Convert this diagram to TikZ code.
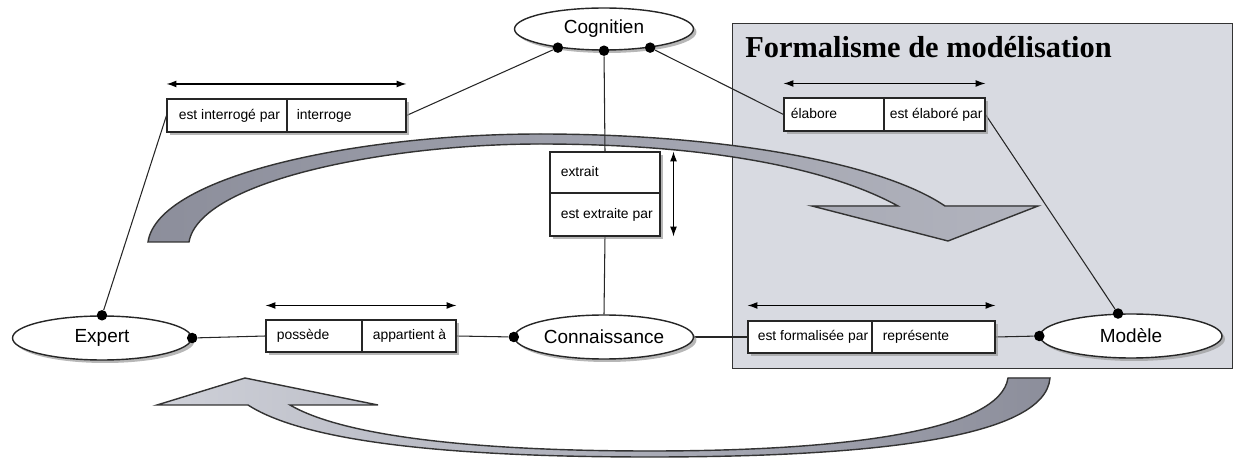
\documentclass[tikz,border=0pt]{standalone}
\usepackage{fontspec}
\setmainfont{Liberation Sans}
\newfontfamily\titlefont{Liberation Serif}
\usetikzlibrary{shapes.geometric,shadows,arrows.meta}
\pgfdeclarelayer{bglayer}
\pgfdeclarelayer{midlayer}
\pgfsetlayers{bglayer,midlayer,main}
\definecolor{panelfill}{RGB}{216,218,225}
\definecolor{arrowdark}{RGB}{140,142,155}
\definecolor{arrowmid}{RGB}{178,180,190}
\definecolor{arrowlight}{RGB}{206,208,216}
\begin{document}
\begin{tikzpicture}[x=0.02cm,y=-0.02cm,
  shad/.style={drop shadow={shadow xshift=0.06cm,shadow yshift=-0.06cm,fill=black!40,opacity=0.7}},
  entity/.style={ellipse,draw=black!85,line width=0.8pt,fill=white,shad,inner sep=0pt,
     minimum width=3.58cm,minimum height=0.88cm,font=\fontsize{10.8}{12}\selectfont},
  cell/.style={rectangle,draw=black!85,line width=0.6pt,fill=white,shad,inner sep=0pt},
  lbl/.style={inner sep=0pt,anchor=west,font=\fontsize{7.9}{9}\selectfont,text height=6pt,text depth=1.8pt},
  dot/.style={circle,fill=black,inner sep=0pt,minimum size=0.21cm},
  conn/.style={line width=0.6pt,black!85},
  dbl/.style={<->,>={Latex[length=0.2cm,width=0.14cm]},line width=0.7pt},
  bigarrow/.style={draw=black!80,line width=0.8pt}
]
\useasboundingbox (0,0) rectangle (1235,459);

% panel and big arrows
\begin{pgfonlayer}{bglayer}
\node[draw=black!80,fill=panelfill,line width=0.8pt,minimum width=10cm,minimum height=6.9cm,
      anchor=north west,inner sep=0pt] (panel) at (732,23) {};
\node[anchor=base west,inner sep=0pt,font=\titlefont\bfseries\fontsize{17.3}{20}\selectfont]
      (title) at (745,58) {Formalisme de modélisation};
\filldraw[bigarrow,left color=arrowdark,right color=arrowmid]
  (148,242) .. controls (158,175) and (360,134) .. (540,134)
  .. controls (720,134) and (880,162) .. (945,206)
  -- (1038,206) -- (948,241) -- (812,206) -- (898,206)
  .. controls (825,166) and (700,144) .. (540,144)
  .. controls (390,144) and (200,180) .. (189,242) -- cycle;
\filldraw[bigarrow,left color=arrowlight,right color=arrowdark]
  (157,405) -- (245,378) -- (378,405) -- (290,405)
  .. controls (350,440) and (500,451) .. (650,451)
  .. controls (850,451) and (1000,430) .. (1008,378)
  -- (1050,378)
  .. controls (1045,440) and (860,457) .. (650,457)
  .. controls (470,457) and (310,445) .. (248,405) -- cycle;
\end{pgfonlayer}

% entities
\node[entity,minimum height=0.84cm] (cog) at (604,29) {Cognitien};
\node[entity] (exp) at (102,338) {Expert};
\node[entity] (con) at (604,337) {Connaissance};
\node[entity,minimum width=3.64cm] (mod) at (1131,336) {Modèle};

% relation cells
\node[cell,minimum width=2.4cm,minimum height=0.66cm] (c1a) at (227,115.5) {};
\node[cell,minimum width=2.38cm,minimum height=0.66cm] (c1b) at (346.5,115.5) {};
\node[cell,minimum width=2.0cm,minimum height=0.66cm] (c2a) at (834,114.5) {};
\node[cell,minimum width=2.02cm,minimum height=0.66cm] (c2b) at (934.5,114.5) {};
\node[cell,minimum width=2.2cm,minimum height=0.82cm] (c3a) at (605,172.5) {};
\node[cell,minimum width=2.2cm,minimum height=0.86cm] (c3b) at (605,214.5) {};
\node[cell,minimum width=1.92cm,minimum height=0.64cm] (c4a) at (314,336) {};
\node[cell,minimum width=1.88cm,minimum height=0.64cm] (c4b) at (409,336) {};
\node[cell,minimum width=2.48cm,minimum height=0.64cm] (c5a) at (810,337) {};
\node[cell,minimum width=2.46cm,minimum height=0.64cm] (c5b) at (933.5,337) {};

% cell texts
\node[lbl] (t1a) at ([xshift=0.24cm]c1a.west) {est interrogé par};
\node[lbl] (t1b) at ([xshift=0.2cm]c1b.west) {interroge};
\node[lbl] (t2a) at ([xshift=0.14cm]c2a.west) {élabore};
\node[lbl] (t2b) at ([xshift=0.12cm]c2b.west) {est élaboré par};
\node[lbl] (t3a) at ([xshift=0.22cm]c3a.west) {extrait};
\node[lbl] (t3b) at ([xshift=0.22cm]c3b.west) {est extraite par};
\node[lbl] (t4a) at ([xshift=0.22cm]c4a.west) {possède};
\node[lbl] (t4b) at ([xshift=0.22cm]c4b.west) {appartient à};
\node[lbl] (t5a) at ([xshift=0.2cm]c5a.west) {est formalisée par};
\node[lbl] (t5b) at ([xshift=0.22cm]c5b.west) {représente};

% dots
\node[dot] (cogL) at (cog.202) {};
\node[dot] (cogB) at (cog.south) {};
\node[dot] (cogR) at (cog.338) {};
\node[dot] (expT) at (exp.north) {};
\node[dot] (expR) at (exp.east) {};
\node[dot] (conL) at (con.west) {};
\node[dot] (modL) at (mod.west) {};
\node[dot] (modT) at (mod.120) {};

% connectors
\begin{pgfonlayer}{midlayer}
\draw[conn] (expT) -- (c1a.west);
\draw[conn] (c1b.east) -- (cogL);
\draw[conn] (cogB) -- (c3a.north);
\draw[conn] (c3b.south) -- (con.north);
\draw[conn] (cogR) -- (c2a.west);
\draw[conn] (c2b.east) -- (modT);
\draw[conn] (expR) -- (c4a.west);
\draw[conn] (c4b.east) -- (conL);
\draw[conn] (con.east) -- (c5a.west);
\draw[conn] (c5b.east) -- (modL);
\end{pgfonlayer}

% direction arrows
\draw[dbl] ([yshift=0.29cm]c1a.north west) -- ([yshift=0.29cm]c1b.north east);
\draw[dbl] ([yshift=0.28cm]c2a.north west) -- ([yshift=0.28cm]c2b.north east);
\draw[dbl] ([xshift=0.26cm]c3a.north east) -- ([xshift=0.26cm]c3b.south east);
\draw[dbl] ([yshift=0.28cm]c4a.north west) -- ([yshift=0.28cm]c4b.north east);
\draw[dbl] ([yshift=0.3cm]c5a.north west) -- ([yshift=0.3cm]c5b.north east);
\end{tikzpicture}
\end{document}
